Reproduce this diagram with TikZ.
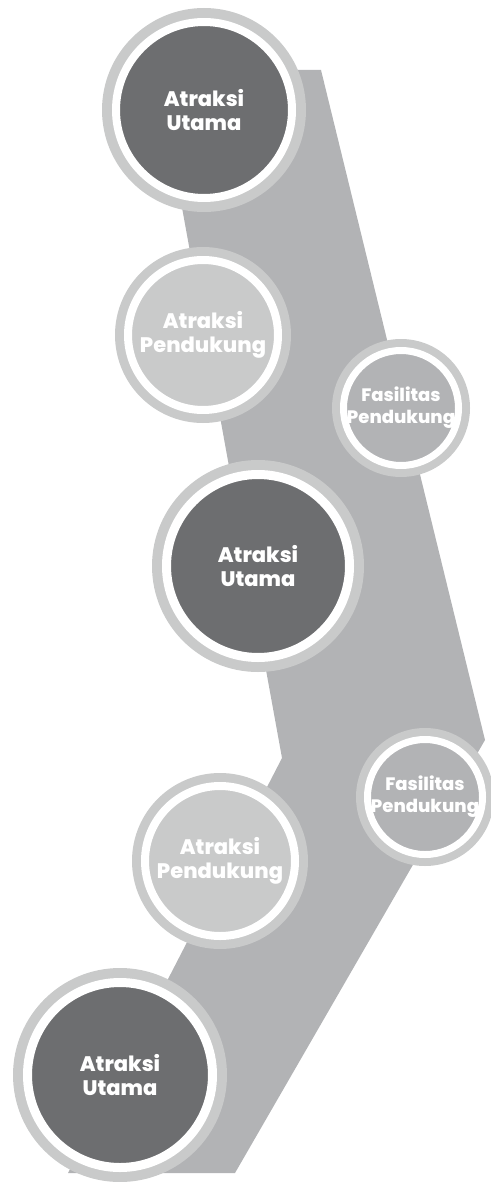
\documentclass[tikz,border=0pt]{standalone}
\usepackage{fontspec}
\setmainfont{Poppins}
\newfontfamily\heavyfont{Poppins ExtraBold}
\definecolor{bandgray}{HTML}{B2B3B5}
\definecolor{ringgray}{HTML}{C9CACA}
\definecolor{coredark}{HTML}{6D6E70}
\begin{document}
\begin{tikzpicture}[x=1pt,y=-1pt,
  outer/.style={circle, fill=ringgray, inner sep=0pt},
  core/.style={circle, fill=#1, draw=white, inner sep=0pt},
  biglbl/.style={text=white, align=center, inner sep=0pt,
    font=\heavyfont\fontsize{21}{24.5}\selectfont},
  smalllbl/.style={text=white, align=center, inner sep=0pt,
    font=\heavyfont\fontsize{18}{22}\selectfont}]
\useasboundingbox (0,0) rectangle (490,1182);

% zigzag band behind the circles
\fill[bandgray] (157,70) -- (321,70) -- (485,740) -- (235,1173)
  -- (68,1173) -- (282,758) -- cycle;

% Atraksi Utama (top)
\node[outer, minimum size=204pt] (r1) at (204,110) {};
\node[core=coredark, minimum size=176pt, line width=8pt] (c1) at (r1) {};
\node[biglbl] (t1) at (c1) {Atraksi\\Utama};

% Atraksi Pendukung (upper)
\node[outer, minimum size=176pt] (r2) at (203,335) {};
\node[core=ringgray, minimum size=150pt, line width=8pt] (c2) at (r2) {};
\node[biglbl] (t2) at (c2) {Atraksi\\Pendukung};

% Fasilitas Pendukung (upper)
\node[outer, minimum size=138pt] (r3) at (401,408) {};
\node[core=bandgray, minimum size=115pt, line width=7pt] (c3) at (r3) {};
\node[smalllbl] (t3) at (c3) {Fasilitas\\Pendukung};

% Atraksi Utama (middle)
\node[outer, minimum size=212pt] (r4) at (258,566) {};
\node[core=coredark, minimum size=183pt, line width=9pt] (c4) at (r4) {};
\node[biglbl] (t4) at (c4) {Atraksi\\Utama};

% Fasilitas Pendukung (lower)
\node[outer, minimum size=138pt] (r5) at (425,797) {};
\node[core=bandgray, minimum size=115pt, line width=7pt] (c5) at (r5) {};
\node[smalllbl] (t5) at (c5) {Fasilitas\\Pendukung};

% Atraksi Pendukung (lower)
\node[outer, minimum size=176pt] (r6) at (220,861) {};
\node[core=ringgray, minimum size=150pt, line width=8pt] (c6) at (r6) {};
\node[biglbl] (t6) at (c6) {Atraksi\\Pendukung};

% Atraksi Utama (bottom)
\node[outer, minimum size=214pt] (r7) at (120,1075) {};
\node[core=coredark, minimum size=185pt, line width=9pt] (c7) at (r7) {};
\node[biglbl] (t7) at (c7) {Atraksi\\Utama};
\end{tikzpicture}
\end{document}
